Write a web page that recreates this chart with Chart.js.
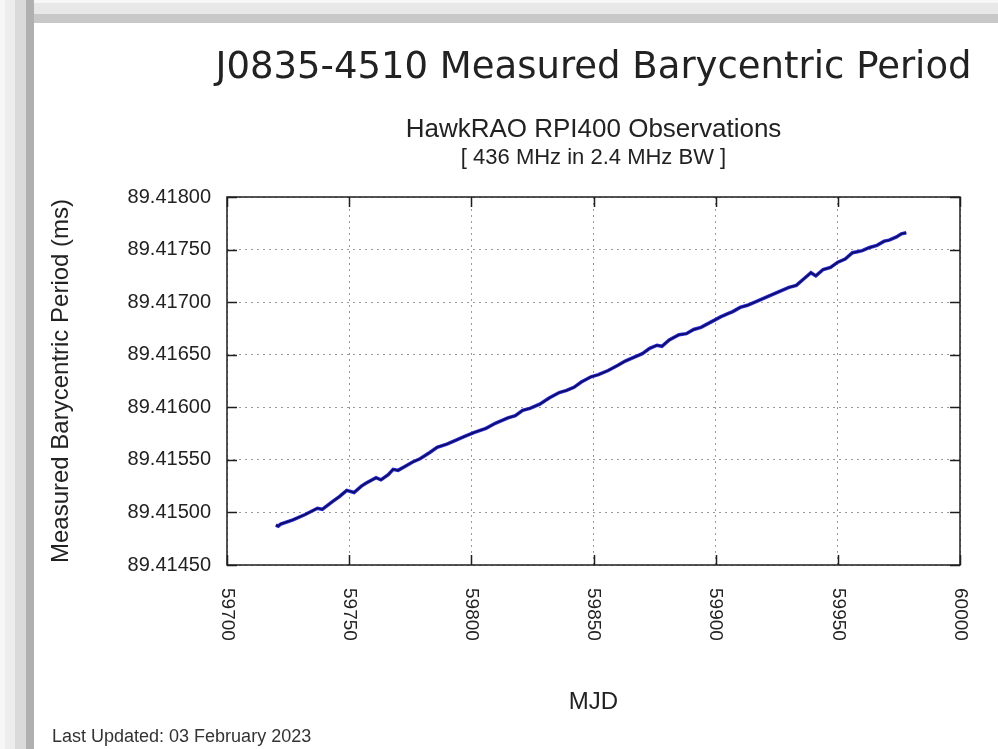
<!DOCTYPE html>
<html>
<head>
<meta charset="utf-8">
<title>J0835-4510 Measured Barycentric Period</title>
<script src="https://cdn.jsdelivr.net/npm/chart.js@4/dist/chart.umd.min.js"></script>
<style>
  html, body { margin: 0; padding: 0; background: #fff; }
  body { width: 998px; height: 749px; position: relative; overflow: hidden; }
  .band-top {
    position: absolute; left: 0; top: 0; width: 998px; height: 23px;
    background: linear-gradient(to bottom, #f7f7f7 0 3px, #e8e8e8 3px 14px, #c8c8c8 14px 23px);
  }
  .band-left {
    position: absolute; left: 0; top: 0; width: 34px; height: 749px;
    background: linear-gradient(to right, #f7f7f7 0 5px, #ededed 5px 15px, #dadada 15px 26px, #b0b0b0 26px 34px);
  }
  #periodChart { position: absolute; left: 0; top: 0; }
</style>
</head>
<body>
<div class="band-top"></div>
<div class="band-left"></div>
<canvas id="periodChart" width="998" height="749"></canvas>
<script>
// observation dates (MJD) and measured barycentric period (ms)
const mjd = [
  59720, 59721, 59722, 59727, 59732, 59737, 59739, 59743, 59746, 59749,
  59752, 59755, 59757, 59761, 59763, 59766, 59768, 59770, 59773, 59776,
  59779, 59783, 59786, 59790, 59794, 59797, 59801, 59806, 59810, 59815,
  59818, 59821, 59824, 59828, 59832, 59836, 59839, 59842, 59845, 59849,
  59852, 59856, 59860, 59863, 59866, 59870, 59873, 59876, 59878, 59881,
  59885, 59888, 59891, 59894, 59898, 59902, 59905, 59907, 59910, 59913,
  59917, 59921, 59925, 59930, 59933, 59936, 59939, 59941, 59944, 59947,
  59950, 59953, 59956, 59958, 59960, 59963, 59966, 59969, 59971, 59974,
  59976, 59978
];
const period = [
  89.41488, 89.41487, 89.41489, 89.41493, 89.41498, 89.41504, 89.41503, 89.41510, 89.41515, 89.41521,
  89.41519, 89.41525, 89.41528, 89.41533, 89.41531, 89.41536, 89.41541, 89.41540, 89.41544, 89.41548,
  89.41551, 89.41557, 89.41562, 89.41565, 89.41569, 89.41572, 89.41576, 89.41580, 89.41585, 89.41590,
  89.41592, 89.41597, 89.41599, 89.41603, 89.41609, 89.41614, 89.41616, 89.41619, 89.41624, 89.41629,
  89.41631, 89.41635, 89.41640, 89.41644, 89.41647, 89.41651, 89.41656, 89.41659, 89.41658, 89.41664,
  89.41669, 89.41670, 89.41674, 89.41676, 89.41681, 89.41686, 89.41689, 89.41691, 89.41695, 89.41697,
  89.41701, 89.41705, 89.41709, 89.41714, 89.41716, 89.41722, 89.41728, 89.41725, 89.41731, 89.41733,
  89.41738, 89.41741, 89.41747, 89.41748, 89.41749, 89.41752, 89.41754, 89.41758, 89.41759, 89.41762,
  89.41765, 89.41766
];

const xTicks = [59700, 59750, 59800, 59850, 59900, 59950, 60000];
const yTicks = [89.4145, 89.4150, 89.4155, 89.4160, 89.4165, 89.4170, 89.4175, 89.4180];

const mainTitle = 'J0835-4510 Measured Barycentric Period';
const subTitle = 'HawkRAO RPI400 Observations';
const bandInfo = '[ 436 MHz in 2.4 MHz BW ]';
const updated = 'Last Updated: 03 February 2023';

const points = mjd.map((m, i) => ({ x: m, y: period[i] }));
const sans = '"Liberation Sans", Arial, sans-serif';

// gnuplot-style frame: inward ticks on all sides, x labels turned clockwise, headings
const frameAndLabels = {
  id: 'frameAndLabels',
  afterDraw(chart) {
    const { ctx, chartArea: a, scales: { x, y } } = chart;
    ctx.save();
    ctx.strokeStyle = '#1e1e1e';
    ctx.lineWidth = 1.5;
    ctx.strokeRect(a.left, a.top, a.right - a.left, a.bottom - a.top);

    ctx.beginPath();
    xTicks.forEach(v => {
      const px = Math.round(x.getPixelForValue(v)) + 0.5;
      ctx.moveTo(px, a.bottom); ctx.lineTo(px, a.bottom - 10);
      ctx.moveTo(px, a.top); ctx.lineTo(px, a.top + 10);
    });
    yTicks.forEach(v => {
      const py = Math.round(y.getPixelForValue(v)) + 0.5;
      ctx.moveTo(a.left, py); ctx.lineTo(a.left + 10, py);
      ctx.moveTo(a.right, py); ctx.lineTo(a.right - 10, py);
    });
    ctx.stroke();

    ctx.fillStyle = '#222';
    ctx.font = '19px ' + sans;
    ctx.textAlign = 'left';
    ctx.textBaseline = 'middle';
    xTicks.forEach(v => {
      ctx.save();
      ctx.translate(x.getPixelForValue(v), a.bottom + 23);
      ctx.rotate(Math.PI / 2);
      ctx.fillText(String(v), 0, 0);
      ctx.restore();
    });

    const cx = (a.left + a.right) / 2;
    ctx.textAlign = 'center';
    ctx.textBaseline = 'alphabetic';
    ctx.font = '37px "DejaVu Sans", sans-serif';
    ctx.fillText(mainTitle, cx, 78);
    ctx.font = '26px ' + sans;
    ctx.fillText(subTitle, cx, 137);
    ctx.font = '22px ' + sans;
    ctx.fillText(bandInfo, cx, 164);

    ctx.textAlign = 'left';
    ctx.font = '18px ' + sans;
    ctx.fillStyle = '#333';
    ctx.fillText(updated, 52, 742);
    ctx.restore();
  }
};

new Chart(document.getElementById('periodChart'), {
  type: 'line',
  data: {
    datasets: [
      {
        data: points,
        borderColor: '#0c0c5e',
        borderWidth: 1.5,
        pointRadius: 0,
        tension: 0,
        order: 0
      },
      {
        data: points,
        borderColor: '#2424d6',
        borderWidth: 3.5,
        pointRadius: 0,
        tension: 0,
        order: 1
      }
    ]
  },
  options: {
    responsive: false,
    devicePixelRatio: 1,
    animation: false,
    layout: { padding: { left: 35, top: 197, right: 38, bottom: 0 } },
    plugins: {
      legend: { display: false },
      tooltip: { enabled: false }
    },
    scales: {
      x: {
        type: 'linear',
        min: 59700,
        max: 60000,
        afterBuildTicks: scale => { scale.ticks = xTicks.map(v => ({ value: v })); },
        afterFit: scale => { scale.height = 184; },
        ticks: { display: false },
        grid: { color: '#9a9a9a', lineWidth: 1, drawTicks: false },
        border: { display: false, dash: [2, 4] },
        title: {
          display: true,
          text: 'MJD',
          color: '#222',
          font: { family: sans, size: 24 },
          padding: { top: 0, bottom: 32 }
        }
      },
      y: {
        min: 89.4145,
        max: 89.4180,
        afterBuildTicks: scale => { scale.ticks = yTicks.map(v => ({ value: v })); },
        afterFit: scale => { scale.width = 192; },
        ticks: {
          padding: 16,
          color: '#222',
          font: { family: sans, size: 20 },
          callback: v => v.toFixed(5)
        },
        grid: { color: '#9a9a9a', lineWidth: 1, drawTicks: false },
        border: { display: false, dash: [2, 4] },
        title: {
          display: true,
          text: 'Measured Barycentric Period (ms)',
          color: '#222',
          font: { family: sans, size: 24 },
          padding: { top: 12, bottom: 0 }
        }
      }
    }
  },
  plugins: [frameAndLabels]
});
</script>
</body>
</html>
